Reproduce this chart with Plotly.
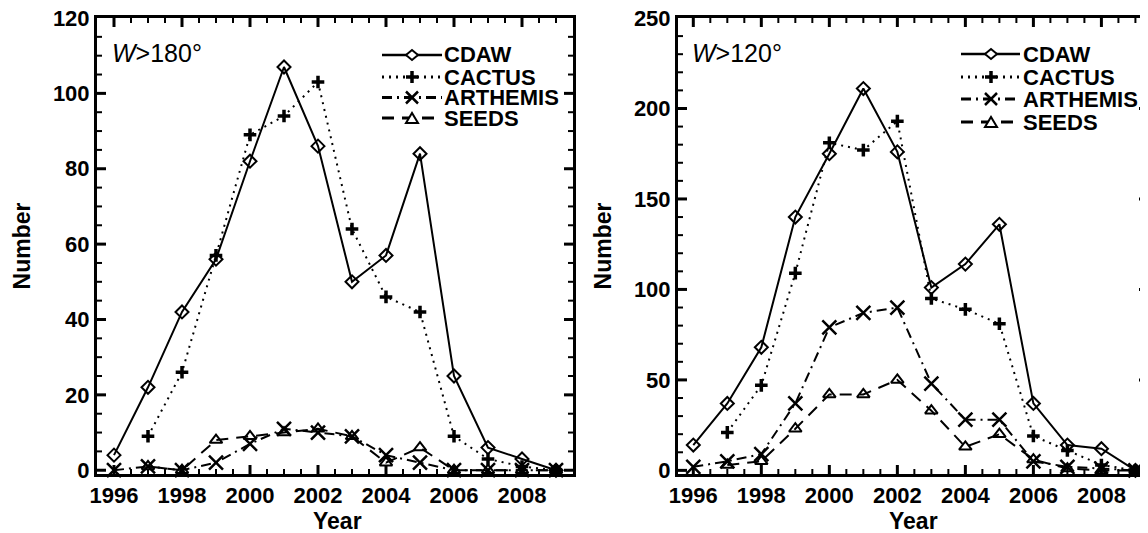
import plotly.graph_objects as go

# ---------------- data ----------------
years = [1996, 1997, 1998, 1999, 2000, 2001, 2002, 2003, 2004, 2005, 2006, 2007, 2008, 2009]
years_late = [1997, 1998, 1999, 2000, 2001, 2002, 2003, 2004, 2005, 2006, 2007, 2008, 2009]

cdaw_180 = [4, 22, 42, 56, 82, 107, 86, 50, 57, 84, 25, 6, 3, 0]
cactus_180 = [9, 26, 57, 89, 94, 103, 64, 46, 42, 9, 3, 1, 0]
arthemis_180 = [0, 1, 0, 2, 7, 11, 10, 9, 4, 2, 0, 0, 0, 0]
seeds_180 = [1, 0, 8, 9, 10, 11, 9, 2, 6, 0, 0, 0, 0]

cdaw_120 = [14, 37, 68, 140, 175, 211, 176, 101, 114, 136, 37, 14, 12, 0]
cactus_120 = [21, 47, 109, 181, 177, 193, 95, 89, 81, 19, 11, 3, 0]
arthemis_120 = [2, 5, 9, 37, 79, 87, 90, 48, 28, 28, 5, 2, 1, 0]
seeds_120 = [3, 5, 23, 42, 42, 50, 33, 13, 20, 6, 1, 0, 0]

series_names = ["CDAW", "CACTUS", "ARTHEMIS", "SEEDS"]
panel_labels = ["<i>W</i>&gt;180°", "<i>W</i>&gt;120°"]

# tick values
x_major = [1996, 1998, 2000, 2002, 2004, 2006, 2008]
x_minor_step = 0.5
y1_major_step, y1_minor_step = 20, 5
y2_major_step, y2_minor_step = 50, 10

# ---------------- geometry / styles ----------------
FONT = "Liberation Sans"
W, H = 1140, 525          # page body adds an 8px margin -> fills the 1148x533 window
ML, MR, MT, MB = 89, 0, 10, 59
PLOT_TOP, PLOT_BOT = MT, H - MB

def fx(px):
    return (px - ML) / (W - ML - MR)

def fy(py):
    return (H - MB - py) / (H - MT - MB)

styles = {
    "CDAW": dict(dash="solid", symbol="diamond-open", size=10, mlw=2),
    "CACTUS": dict(dash="2px,5px", symbol="cross-thin-open", size=9, mlw=3.5),
    "ARTHEMIS": dict(dash="10px,5px,2px,5px", symbol="x-thin-open", size=14, mlw=2.5),
    "SEEDS": dict(dash="12px,8px", symbol="triangle-up-open", size=11, mlw=2),
}

fig = go.Figure()
panels = [
    ("x", "y", [(years, cdaw_180), (years_late, cactus_180), (years, arthemis_180), (years_late, seeds_180)]),
    ("x2", "y2", [(years, cdaw_120), (years_late, cactus_120), (years, arthemis_120), (years_late, seeds_120)]),
]
for xa, ya, data in panels:
    for name, (xs, ys) in zip(series_names, data):
        st = styles[name]
        fig.add_trace(go.Scatter(
            x=xs, y=ys, mode="lines+markers", name=name, showlegend=False,
            xaxis=xa, yaxis=ya, cliponaxis=False,
            line=dict(color="black", width=2, dash=st["dash"]),
            marker=dict(symbol=st["symbol"], size=st["size"], color="black",
                        line=dict(color="black", width=st["mlw"])),
        ))

tickfont = dict(family=FONT, size=22, color="black", weight="bold")
titlefont = dict(family=FONT, size=23, color="black", weight="bold")

def ax_style():
    return dict(showline=True, linewidth=3, linecolor="black", mirror=True,
                ticks="", showgrid=False, zeroline=False, tickfont=tickfont,
                tickmode="linear", ticklabeloverflow="allow")

x1_range = [1995.5, 2009.5]
x2_range = [1995.55, 2009.37]
y1_range = [-1, 120]
y2_range = [-2, 250]
P1 = (89, 565)      # left panel plot-area edges (figure px)
P2 = (670, 1140)    # right panel plot-area edges (figure px)

fig.update_layout(
    template="none",
    xaxis=dict(**ax_style(), domain=[fx(P1[0]), fx(P1[1])], range=x1_range, anchor="y", tick0=1996, dtick=2),
    yaxis=dict(**ax_style(), domain=[0, 1], range=y1_range, anchor="x", tick0=0, dtick=y1_major_step,
               title=dict(text="Number", font=titlefont, standoff=16)),
    xaxis2=dict(**ax_style(), domain=[fx(P2[0]), 1.0], range=x2_range, anchor="y2", tick0=1996, dtick=2),
    yaxis2=dict(**ax_style(), domain=[0, 1], range=y2_range, anchor="x2", tick0=0, dtick=y2_major_step,
                title=dict(text="Number", font=titlefont, standoff=16)),
)

# inward-pointing major/minor tick marks on all four sides (axis value -> figure pixel)
def frange(start, stop, step):
    out, k = [], 0
    while True:
        v = start + k * step
        if v > stop + 1e-9:
            break
        out.append(round(v, 6))
        k += 1
    return out

def add_ticks(P, xr, yr, y_major_step, y_minor_step):
    def xpix(v):
        return P[0] + (v - xr[0]) / (xr[1] - xr[0]) * (P[1] - P[0])

    def ypix(v):
        return PLOT_BOT - (v - yr[0]) / (yr[1] - yr[0]) * (PLOT_BOT - PLOT_TOP)

    xmaj = [v for v in x_major if xr[0] < v < xr[1]]
    xmin = [v for v in frange(1995.5, 2010, x_minor_step) if xr[0] < v < xr[1] and v not in xmaj]
    ymaj = [v for v in frange(0, yr[1], y_major_step) if yr[0] < v < yr[1]]
    ymin = [v for v in frange(0, yr[1], y_minor_step) if yr[0] < v < yr[1] and v not in ymaj]
    for vals, L, lw in [(xmaj, 9, 3), (xmin, 5, 2)]:
        for v in vals:
            px = xpix(v)
            for a, b in [(PLOT_BOT, PLOT_BOT - L), (PLOT_TOP, PLOT_TOP + L)]:
                fig.add_shape(type="line", xref="paper", yref="paper",
                              x0=fx(px), x1=fx(px), y0=fy(a), y1=fy(b),
                              line=dict(color="black", width=lw))
    for vals, L, lw in [(ymaj, 9, 3), (ymin, 5, 2)]:
        for v in vals:
            py = ypix(v)
            for a, b in [(P[0], P[0] + L), (P[1], P[1] - L)]:
                fig.add_shape(type="line", xref="paper", yref="paper",
                              x0=fx(a), x1=fx(b), y0=fy(py), y1=fy(py),
                              line=dict(color="black", width=lw))

add_ticks(P1, x1_range, y1_range, y1_major_step, y1_minor_step)
add_ticks(P2, x2_range, y2_range, y2_major_step, y2_minor_step)

# x axis titles
for px in [329, 905]:
    fig.add_annotation(text="Year", xref="paper", yref="paper", x=fx(px), y=fy(513),
                       xanchor="center", yanchor="middle", showarrow=False, font=titlefont)

# panel labels
for lbl, px in zip(panel_labels, [102, 682]):
    fig.add_annotation(text=lbl, xref="paper", yref="paper", x=fx(px), y=fy(45),
                       xanchor="left", yanchor="middle", showarrow=False,
                       font=dict(family=FONT, size=25, color="black"))

# custom legends (key line + key marker + label)
legend_layout = [
    dict(x0=374, x1=434, xm=404, xt=434, rows=[47, 69, 89.5, 110]),
    dict(x0=953, x1=1012, xm=983, xt=1013, rows=[46, 69, 91, 114]),
]

def marker_shapes(name, cx, cy):
    out = []
    if name == "CDAW":
        d = 6
        out.append(dict(type="path",
                        path=f"M {fx(cx-d)},{fy(cy)} L {fx(cx)},{fy(cy-5)} L {fx(cx+d)},{fy(cy)} L {fx(cx)},{fy(cy+5)} Z",
                        line=dict(color="black", width=2), fillcolor="white"))
    elif name == "CACTUS":
        d = 6
        out.append(dict(type="line", x0=fx(cx-d), x1=fx(cx+d), y0=fy(cy), y1=fy(cy), line=dict(color="black", width=3.5)))
        out.append(dict(type="line", x0=fx(cx), x1=fx(cx), y0=fy(cy-d), y1=fy(cy+d), line=dict(color="black", width=3.5)))
    elif name == "ARTHEMIS":
        d = 6
        out.append(dict(type="line", x0=fx(cx-d), x1=fx(cx+d), y0=fy(cy-d), y1=fy(cy+d), line=dict(color="black", width=2.5)))
        out.append(dict(type="line", x0=fx(cx-d), x1=fx(cx+d), y0=fy(cy+d), y1=fy(cy-d), line=dict(color="black", width=2.5)))
    else:
        out.append(dict(type="path",
                        path=f"M {fx(cx-6)},{fy(cy+5)} L {fx(cx+6)},{fy(cy+5)} L {fx(cx)},{fy(cy-5)} Z",
                        line=dict(color="black", width=2), fillcolor="white"))
    return out

for lg in legend_layout:
    for name, ry in zip(series_names, lg["rows"]):
        st = styles[name]
        fig.add_shape(type="line", xref="paper", yref="paper",
                      x0=fx(lg["x0"]), x1=fx(lg["x1"]), y0=fy(ry), y1=fy(ry),
                      line=dict(color="black", width=2.5 if name == "CDAW" else 3, dash=st["dash"]))
        for s in marker_shapes(name, lg["xm"], ry):
            s.update(xref="paper", yref="paper")
            fig.add_shape(**s)
        fig.add_annotation(text=name, xref="paper", yref="paper", x=fx(lg["xt"]), y=fy(ry),
                           xanchor="left", yanchor="middle", showarrow=False,
                           font=dict(family=FONT, size=22, color="black", weight="bold"))

fig.update_layout(
    width=W, height=H,
    margin=dict(l=ML, r=MR, t=MT, b=MB, pad=0),
    paper_bgcolor="white", plot_bgcolor="white",
    showlegend=False,
)

fig.write_html("out.html")
